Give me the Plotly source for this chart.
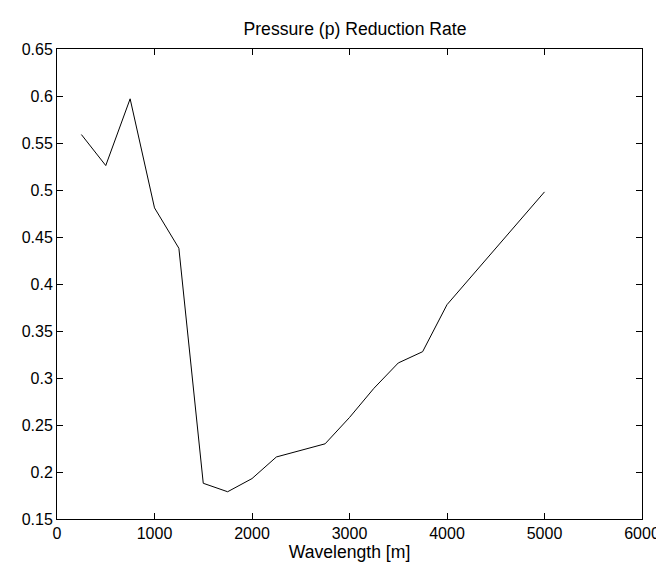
import plotly.graph_objects as go

wavelength = [250, 500, 750, 1000, 1250, 1500, 1750, 2000, 2250, 2500,
              2750, 3000, 3250, 3500, 3750, 4000, 4250, 4500, 4750, 5000]
reduction_rate = [0.559, 0.526, 0.597, 0.481, 0.438, 0.188, 0.179, 0.193, 0.216, 0.223,
                  0.230, 0.258, 0.289, 0.316, 0.328, 0.378, 0.408, 0.439, 0.469, 0.498]

x_tick_vals = [0, 1000, 2000, 3000, 4000, 5000, 6000]
x_tick_text = ["0", "1000", "2000", "3000", "4000", "5000", "6000"]
y_tick_vals = [0.15, 0.2, 0.25, 0.3, 0.35, 0.4, 0.45, 0.5, 0.55, 0.6, 0.65]
y_tick_text = ["0.15", "0.2", "0.25", "0.3", "0.35", "0.4", "0.45", "0.5", "0.55", "0.6", "0.65"]

font_family = "Liberation Sans, Arial, sans-serif"

fig = go.Figure()
fig.add_trace(go.Scatter(x=wavelength, y=reduction_rate, mode="lines",
                         line=dict(color="black", width=1), showlegend=False))

axis_common = dict(showline=True, linecolor="black", linewidth=1, mirror="ticks",
                   ticks="inside", ticklen=6, tickcolor="black", tickwidth=1,
                   showgrid=False, zeroline=False,
                   tickfont=dict(family=font_family, size=16, color="black"))

fig.update_layout(
    width=664, height=563,
    margin=dict(l=49, r=19, t=41, b=51, pad=0),
    paper_bgcolor="white", plot_bgcolor="white",
    title=dict(text="Pressure (p) Reduction Rate", x=347 / 664, xanchor="center",
               y=1 - 21 / 563, yanchor="middle",
               font=dict(family=font_family, size=17.6, color="black")),
    xaxis=dict(range=[0, 6000], tickmode="array", tickvals=x_tick_vals, ticktext=x_tick_text,
               title=dict(text="Wavelength [m]", standoff=4,
                          font=dict(family=font_family, size=17.6, color="black")),
               **axis_common),
    yaxis=dict(range=[0.15, 0.65], tickmode="array", tickvals=y_tick_vals, ticktext=y_tick_text,
               **axis_common),
)

fig.write_html("out.html")
